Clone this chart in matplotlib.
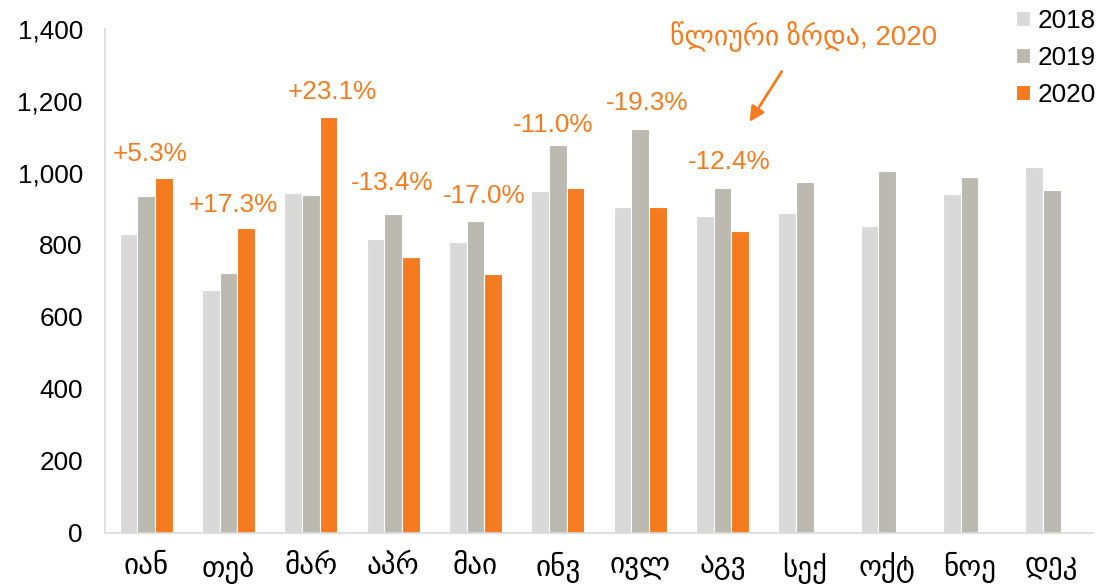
import numpy as np
import matplotlib
matplotlib.use('Agg')
import matplotlib.pyplot as plt
from matplotlib.ticker import FuncFormatter

plt.rcParams['font.family'] = ['Liberation Sans', 'DejaVu Sans']

months = ['იან', 'თებ', 'მარ', 'აპრ', 'მაი', 'ინვ', 'ივლ', 'აგვ', 'სექ', 'ოქტ', 'ნოე', 'დეკ']
years = ['2018', '2019', '2020']
v2018 = [830, 675, 944, 817, 808, 951, 905, 880, 889, 854, 941, 1017]
v2019 = [935, 721, 938, 886, 868, 1078, 1123, 957, 975, 1006, 989, 953]
v2020 = [985, 846, 1155, 767, 720, 959, 906, 838]
growth = ['+5.3%', '+17.3%', '+23.1%', '-13.4%', '-17.0%', '-11.0%', '-19.3%', '-12.4%']

colors = ['#D9D9D9', '#BCB9B0', '#F47B20']
orange = '#F47B20'

fig = plt.figure(figsize=(11, 5.87), dpi=100)
ax = fig.add_axes([0.0955, 0.092, 0.898, 0.8586])

x = np.arange(len(months))
w = 0.215
for i, (vals, c, lab) in enumerate(zip([v2018, v2019, v2020], colors, years)):
    xs = x[:len(vals)] + (i - 1) * w
    ax.bar(xs, vals, width=w, color=c, edgecolor='white', linewidth=0.8, label=lab)

# growth labels, placed by hand above each 2020 group
label_pos = [(0.05, 1053), (1.06, 912), (2.26, 1224), (2.99, 972),
             (4.10, 936), (4.94, 1133), (6.08, 1194), (7.08, 1031)]
for txt, (lx, ly) in zip(growth, label_pos):
    ax.text(lx, ly, txt, color=orange, fontsize=18.8, ha='center', va='center')

ax.annotate('წლიური ზრდა, 2020', xy=(7.33, 1142), xytext=(7.99, 1378),
            color=orange, fontsize=20, ha='center', va='center',
            arrowprops=dict(arrowstyle='-|>', color=orange, lw=2,
                            mutation_scale=22, shrinkA=14, shrinkB=0),
            annotation_clip=False)

ax.set_xlim(-0.5, 11.5)
ax.set_ylim(0, 1400)
ax.set_yticks(range(0, 1401, 200))
ax.yaxis.set_major_formatter(FuncFormatter(lambda v, p: f'{int(v):,}'))
ax.set_xticks(x)
ax.set_xticklabels(months, fontsize=21)
ax.tick_params(axis='both', length=0, colors='black')
ax.tick_params(axis='y', pad=16, labelsize=18.8)
ax.tick_params(axis='x', pad=14)

for s in ['top', 'right']:
    ax.spines[s].set_visible(False)
for s in ['left', 'bottom']:
    ax.spines[s].set_color('#D9D9D9')
    ax.spines[s].set_linewidth(1.2)

fig.legend(loc='upper right', bbox_to_anchor=(1.006, 1.003), frameon=False,
           fontsize=18.8, handlelength=0.55, handleheight=0.55, handletextpad=0.3,
           labelspacing=0.5, borderaxespad=0.0)

fig.savefig('out.png', dpi=100)
